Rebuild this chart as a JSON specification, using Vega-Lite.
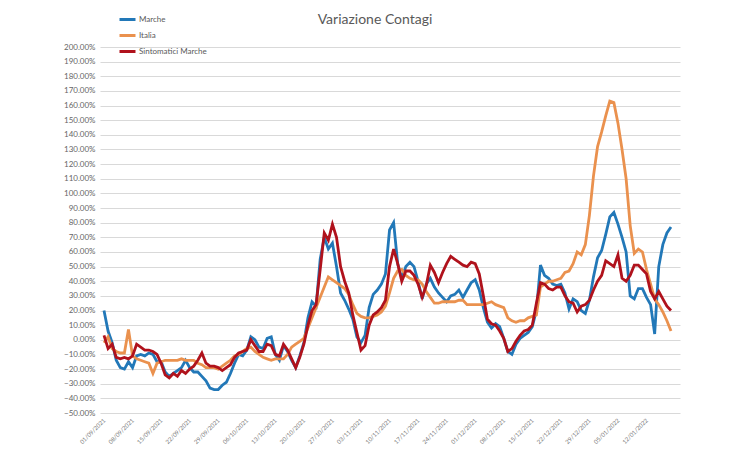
{
  "$schema": "https://vega.github.io/schema/vega-lite/v6.json",
  "autosize": {"type": "none"},
  "width": 580,
  "height": 366,
  "padding": {"left": 100, "top": 47, "right": 70, "bottom": 37},
  "background": "white",
  "config": {"font": "Lato", "view": {"stroke": null}},
  "title": {"text": "Variazione Contagi", "fontSize": 14, "fontWeight": "normal", "color": "#595959", "anchor": "middle", "dx": -15, "offset": 0, "dy": 17},
  "data": {"values": [
    {"d":"2021-09-01","Marche":20,"Italia":-2,"Sintomatici Marche":3},
    {"d":"2021-09-02","Marche":6,"Italia":2,"Sintomatici Marche":-6},
    {"d":"2021-09-03","Marche":-2,"Italia":-6,"Sintomatici Marche":-3},
    {"d":"2021-09-04","Marche":-14,"Italia":-8,"Sintomatici Marche":-12},
    {"d":"2021-09-05","Marche":-19,"Italia":-9,"Sintomatici Marche":-13},
    {"d":"2021-09-06","Marche":-20,"Italia":-9,"Sintomatici Marche":-12},
    {"d":"2021-09-07","Marche":-15,"Italia":7,"Sintomatici Marche":-13},
    {"d":"2021-09-08","Marche":-19,"Italia":-11,"Sintomatici Marche":-11},
    {"d":"2021-09-09","Marche":-11,"Italia":-13,"Sintomatici Marche":-3},
    {"d":"2021-09-10","Marche":-10,"Italia":-14,"Sintomatici Marche":-5},
    {"d":"2021-09-11","Marche":-11,"Italia":-15,"Sintomatici Marche":-7},
    {"d":"2021-09-12","Marche":-9,"Italia":-16,"Sintomatici Marche":-7},
    {"d":"2021-09-13","Marche":-10,"Italia":-23,"Sintomatici Marche":-8},
    {"d":"2021-09-14","Marche":-15,"Italia":-16,"Sintomatici Marche":-10},
    {"d":"2021-09-15","Marche":-15,"Italia":-15,"Sintomatici Marche":-16},
    {"d":"2021-09-16","Marche":-22,"Italia":-14,"Sintomatici Marche":-24},
    {"d":"2021-09-17","Marche":-25,"Italia":-14,"Sintomatici Marche":-26},
    {"d":"2021-09-18","Marche":-23,"Italia":-14,"Sintomatici Marche":-23},
    {"d":"2021-09-19","Marche":-21,"Italia":-14,"Sintomatici Marche":-25},
    {"d":"2021-09-20","Marche":-19,"Italia":-13,"Sintomatici Marche":-21},
    {"d":"2021-09-21","Marche":-14,"Italia":-14,"Sintomatici Marche":-23},
    {"d":"2021-09-22","Marche":-19,"Italia":-14,"Sintomatici Marche":-20},
    {"d":"2021-09-23","Marche":-22,"Italia":-14,"Sintomatici Marche":-18},
    {"d":"2021-09-24","Marche":-22,"Italia":-16,"Sintomatici Marche":-14},
    {"d":"2021-09-25","Marche":-25,"Italia":-17,"Sintomatici Marche":-9},
    {"d":"2021-09-26","Marche":-28,"Italia":-19,"Sintomatici Marche":-16},
    {"d":"2021-09-27","Marche":-33,"Italia":-19,"Sintomatici Marche":-18},
    {"d":"2021-09-28","Marche":-34,"Italia":-19,"Sintomatici Marche":-18},
    {"d":"2021-09-29","Marche":-34,"Italia":-20,"Sintomatici Marche":-19},
    {"d":"2021-09-30","Marche":-31,"Italia":-18,"Sintomatici Marche":-21},
    {"d":"2021-10-01","Marche":-29,"Italia":-16,"Sintomatici Marche":-19},
    {"d":"2021-10-02","Marche":-23,"Italia":-14,"Sintomatici Marche":-17},
    {"d":"2021-10-03","Marche":-16,"Italia":-11,"Sintomatici Marche":-12},
    {"d":"2021-10-04","Marche":-10,"Italia":-10,"Sintomatici Marche":-9},
    {"d":"2021-10-05","Marche":-11,"Italia":-8,"Sintomatici Marche":-8},
    {"d":"2021-10-06","Marche":-7,"Italia":-6,"Sintomatici Marche":-7},
    {"d":"2021-10-07","Marche":2,"Italia":-5,"Sintomatici Marche":0},
    {"d":"2021-10-08","Marche":0,"Italia":-8,"Sintomatici Marche":-4},
    {"d":"2021-10-09","Marche":-5,"Italia":-10,"Sintomatici Marche":-8},
    {"d":"2021-10-10","Marche":-6,"Italia":-12,"Sintomatici Marche":-8},
    {"d":"2021-10-11","Marche":1,"Italia":-13,"Sintomatici Marche":-3},
    {"d":"2021-10-12","Marche":2,"Italia":-14,"Sintomatici Marche":-4},
    {"d":"2021-10-13","Marche":-10,"Italia":-13,"Sintomatici Marche":-10},
    {"d":"2021-10-14","Marche":-14,"Italia":-13,"Sintomatici Marche":-11},
    {"d":"2021-10-15","Marche":-4,"Italia":-13,"Sintomatici Marche":-3},
    {"d":"2021-10-16","Marche":-8,"Italia":-10,"Sintomatici Marche":-7},
    {"d":"2021-10-17","Marche":-14,"Italia":-5,"Sintomatici Marche":-13},
    {"d":"2021-10-18","Marche":-19,"Italia":-3,"Sintomatici Marche":-19},
    {"d":"2021-10-19","Marche":-11,"Italia":-1,"Sintomatici Marche":-12},
    {"d":"2021-10-20","Marche":-2,"Italia":1,"Sintomatici Marche":-3},
    {"d":"2021-10-21","Marche":15,"Italia":8,"Sintomatici Marche":10},
    {"d":"2021-10-22","Marche":26,"Italia":15,"Sintomatici Marche":20},
    {"d":"2021-10-23","Marche":23,"Italia":22,"Sintomatici Marche":24},
    {"d":"2021-10-24","Marche":55,"Italia":29,"Sintomatici Marche":48},
    {"d":"2021-10-25","Marche":70,"Italia":36,"Sintomatici Marche":73},
    {"d":"2021-10-26","Marche":62,"Italia":43,"Sintomatici Marche":68},
    {"d":"2021-10-27","Marche":66,"Italia":41,"Sintomatici Marche":79},
    {"d":"2021-10-28","Marche":50,"Italia":39,"Sintomatici Marche":70},
    {"d":"2021-10-29","Marche":32,"Italia":37,"Sintomatici Marche":50},
    {"d":"2021-10-30","Marche":27,"Italia":35,"Sintomatici Marche":40},
    {"d":"2021-10-31","Marche":21,"Italia":31,"Sintomatici Marche":32},
    {"d":"2021-11-01","Marche":14,"Italia":24,"Sintomatici Marche":17},
    {"d":"2021-11-02","Marche":2,"Italia":18,"Sintomatici Marche":5},
    {"d":"2021-11-03","Marche":-2,"Italia":16,"Sintomatici Marche":-7},
    {"d":"2021-11-04","Marche":3,"Italia":15,"Sintomatici Marche":-4},
    {"d":"2021-11-05","Marche":22,"Italia":15,"Sintomatici Marche":10},
    {"d":"2021-11-06","Marche":31,"Italia":16,"Sintomatici Marche":17},
    {"d":"2021-11-07","Marche":34,"Italia":17,"Sintomatici Marche":19},
    {"d":"2021-11-08","Marche":38,"Italia":19,"Sintomatici Marche":22},
    {"d":"2021-11-09","Marche":45,"Italia":23,"Sintomatici Marche":27},
    {"d":"2021-11-10","Marche":75,"Italia":32,"Sintomatici Marche":50},
    {"d":"2021-11-11","Marche":80,"Italia":42,"Sintomatici Marche":62},
    {"d":"2021-11-12","Marche":52,"Italia":47,"Sintomatici Marche":52},
    {"d":"2021-11-13","Marche":42,"Italia":48,"Sintomatici Marche":40},
    {"d":"2021-11-14","Marche":50,"Italia":44,"Sintomatici Marche":47},
    {"d":"2021-11-15","Marche":53,"Italia":42,"Sintomatici Marche":47},
    {"d":"2021-11-16","Marche":50,"Italia":41,"Sintomatici Marche":44},
    {"d":"2021-11-17","Marche":40,"Italia":41,"Sintomatici Marche":38},
    {"d":"2021-11-18","Marche":28,"Italia":38,"Sintomatici Marche":29},
    {"d":"2021-11-19","Marche":38,"Italia":33,"Sintomatici Marche":37},
    {"d":"2021-11-20","Marche":42,"Italia":29,"Sintomatici Marche":51},
    {"d":"2021-11-21","Marche":36,"Italia":25,"Sintomatici Marche":46},
    {"d":"2021-11-22","Marche":32,"Italia":25,"Sintomatici Marche":39},
    {"d":"2021-11-23","Marche":29,"Italia":26,"Sintomatici Marche":46},
    {"d":"2021-11-24","Marche":26,"Italia":26,"Sintomatici Marche":52},
    {"d":"2021-11-25","Marche":30,"Italia":26,"Sintomatici Marche":57},
    {"d":"2021-11-26","Marche":31,"Italia":26,"Sintomatici Marche":55},
    {"d":"2021-11-27","Marche":34,"Italia":27,"Sintomatici Marche":53},
    {"d":"2021-11-28","Marche":29,"Italia":27,"Sintomatici Marche":51},
    {"d":"2021-11-29","Marche":34,"Italia":24,"Sintomatici Marche":50},
    {"d":"2021-11-30","Marche":39,"Italia":24,"Sintomatici Marche":53},
    {"d":"2021-12-01","Marche":41,"Italia":24,"Sintomatici Marche":52},
    {"d":"2021-12-02","Marche":34,"Italia":24,"Sintomatici Marche":45},
    {"d":"2021-12-03","Marche":22,"Italia":24,"Sintomatici Marche":30},
    {"d":"2021-12-04","Marche":12,"Italia":25,"Sintomatici Marche":14},
    {"d":"2021-12-05","Marche":8,"Italia":26,"Sintomatici Marche":11},
    {"d":"2021-12-06","Marche":11,"Italia":24,"Sintomatici Marche":10},
    {"d":"2021-12-07","Marche":9,"Italia":23,"Sintomatici Marche":6},
    {"d":"2021-12-08","Marche":1,"Italia":22,"Sintomatici Marche":1},
    {"d":"2021-12-09","Marche":-8,"Italia":15,"Sintomatici Marche":-8},
    {"d":"2021-12-10","Marche":-10,"Italia":13,"Sintomatici Marche":-6},
    {"d":"2021-12-11","Marche":-3,"Italia":12,"Sintomatici Marche":-1},
    {"d":"2021-12-12","Marche":1,"Italia":13,"Sintomatici Marche":3},
    {"d":"2021-12-13","Marche":3,"Italia":13,"Sintomatici Marche":6},
    {"d":"2021-12-14","Marche":5,"Italia":15,"Sintomatici Marche":7},
    {"d":"2021-12-15","Marche":9,"Italia":16,"Sintomatici Marche":10},
    {"d":"2021-12-16","Marche":20,"Italia":17,"Sintomatici Marche":25},
    {"d":"2021-12-17","Marche":51,"Italia":36,"Sintomatici Marche":39},
    {"d":"2021-12-18","Marche":44,"Italia":38,"Sintomatici Marche":38},
    {"d":"2021-12-19","Marche":42,"Italia":40,"Sintomatici Marche":35},
    {"d":"2021-12-20","Marche":38,"Italia":40,"Sintomatici Marche":34},
    {"d":"2021-12-21","Marche":37,"Italia":41,"Sintomatici Marche":36},
    {"d":"2021-12-22","Marche":38,"Italia":42,"Sintomatici Marche":36},
    {"d":"2021-12-23","Marche":32,"Italia":46,"Sintomatici Marche":30},
    {"d":"2021-12-24","Marche":21,"Italia":47,"Sintomatici Marche":26},
    {"d":"2021-12-25","Marche":28,"Italia":52,"Sintomatici Marche":25},
    {"d":"2021-12-26","Marche":26,"Italia":60,"Sintomatici Marche":19},
    {"d":"2021-12-27","Marche":20,"Italia":58,"Sintomatici Marche":23},
    {"d":"2021-12-28","Marche":18,"Italia":65,"Sintomatici Marche":24},
    {"d":"2021-12-29","Marche":27,"Italia":85,"Sintomatici Marche":27},
    {"d":"2021-12-30","Marche":43,"Italia":112,"Sintomatici Marche":34},
    {"d":"2021-12-31","Marche":56,"Italia":132,"Sintomatici Marche":40},
    {"d":"2022-01-01","Marche":61,"Italia":142,"Sintomatici Marche":44},
    {"d":"2022-01-02","Marche":72,"Italia":153,"Sintomatici Marche":54},
    {"d":"2022-01-03","Marche":84,"Italia":163,"Sintomatici Marche":52},
    {"d":"2022-01-04","Marche":87,"Italia":162,"Sintomatici Marche":50},
    {"d":"2022-01-05","Marche":79,"Italia":148,"Sintomatici Marche":58},
    {"d":"2022-01-06","Marche":70,"Italia":130,"Sintomatici Marche":42},
    {"d":"2022-01-07","Marche":60,"Italia":110,"Sintomatici Marche":40},
    {"d":"2022-01-08","Marche":30,"Italia":78,"Sintomatici Marche":44},
    {"d":"2022-01-09","Marche":28,"Italia":59,"Sintomatici Marche":51},
    {"d":"2022-01-10","Marche":35,"Italia":62,"Sintomatici Marche":51},
    {"d":"2022-01-11","Marche":35,"Italia":60,"Sintomatici Marche":48},
    {"d":"2022-01-12","Marche":29,"Italia":48,"Sintomatici Marche":45},
    {"d":"2022-01-13","Marche":24,"Italia":38,"Sintomatici Marche":33},
    {"d":"2022-01-14","Marche":4,"Italia":28,"Sintomatici Marche":28},
    {"d":"2022-01-15","Marche":50,"Italia":24,"Sintomatici Marche":33},
    {"d":"2022-01-16","Marche":65,"Italia":19,"Sintomatici Marche":28},
    {"d":"2022-01-17","Marche":73,"Italia":13,"Sintomatici Marche":23},
    {"d":"2022-01-18","Marche":77,"Italia":6,"Sintomatici Marche":20}
  ]},
  "transform": [
    {"fold": ["Marche", "Italia", "Sintomatici Marche"], "as": ["serie", "value"]}
  ],
  "encoding": {
    "x": {
      "field": "d", "type": "temporal",
      "scale": {"type": "utc", "domain": [
        {"year": 2021, "month": 8, "date": 31, "hours": 0, "minutes": 30, "utc": true},
        {"year": 2022, "month": 1, "date": 20, "hours": 5, "utc": true}
      ]},
      "axis": {
        "title": null, "format": "%d/%m/%Y", "labelAngle": -45, "labelAlign": "right", "labelBaseline": "middle",
        "labelFontSize": 6, "labelColor": "#777777", "labelPadding": 6, "labelOverlap": false,
        "domain": false, "ticks": false, "grid": false,
        "values": [
          {"year": 2021, "month": 9, "date": 1, "utc": true},
          {"year": 2021, "month": 9, "date": 8, "utc": true},
          {"year": 2021, "month": 9, "date": 15, "utc": true},
          {"year": 2021, "month": 9, "date": 22, "utc": true},
          {"year": 2021, "month": 9, "date": 29, "utc": true},
          {"year": 2021, "month": 10, "date": 6, "utc": true},
          {"year": 2021, "month": 10, "date": 13, "utc": true},
          {"year": 2021, "month": 10, "date": 20, "utc": true},
          {"year": 2021, "month": 10, "date": 27, "utc": true},
          {"year": 2021, "month": 11, "date": 3, "utc": true},
          {"year": 2021, "month": 11, "date": 10, "utc": true},
          {"year": 2021, "month": 11, "date": 17, "utc": true},
          {"year": 2021, "month": 11, "date": 24, "utc": true},
          {"year": 2021, "month": 12, "date": 1, "utc": true},
          {"year": 2021, "month": 12, "date": 8, "utc": true},
          {"year": 2021, "month": 12, "date": 15, "utc": true},
          {"year": 2021, "month": 12, "date": 22, "utc": true},
          {"year": 2021, "month": 12, "date": 29, "utc": true},
          {"year": 2022, "month": 1, "date": 5, "utc": true},
          {"year": 2022, "month": 1, "date": 12, "utc": true}
        ]
      }
    },
    "y": {
      "field": "value", "type": "quantitative",
      "scale": {"domain": [-50, 200], "nice": false, "zero": false},
      "axis": {
        "title": null, "values": [-50,-40,-30,-20,-10,0,10,20,30,40,50,60,70,80,90,100,110,120,130,140,150,160,170,180,190,200],
        "labelExpr": "format(datum.value, '.2f') + '%'",
        "labelFontSize": 8, "labelColor": "#666666", "labelPadding": 5,
        "domain": false, "ticks": false, "grid": true, "gridColor": "#d9d9d9", "gridWidth": 1
      }
    },
    "color": {
      "field": "serie", "type": "nominal",
      "scale": {"domain": ["Marche", "Italia", "Sintomatici Marche"], "range": ["#2278B8", "#EA914E", "#B0121C"]},
      "legend": {
        "title": null, "orient": "none", "legendX": 18, "legendY": -37, "direction": "vertical",
        "symbolType": "stroke", "symbolSize": 256, "symbolStrokeWidth": 3,
        "labelFontSize": 8, "labelColor": "#595959", "labelOffset": 2, "rowPadding": 0
      }
    }
  },
  "layer": [
    {"transform": [{"filter": "datum.serie === 'Marche'"}], "mark": {"type": "line", "strokeWidth": 2.8}},
    {"transform": [{"filter": "datum.serie === 'Italia'"}], "mark": {"type": "line", "strokeWidth": 2.8}},
    {"transform": [{"filter": "datum.serie === 'Sintomatici Marche'"}], "mark": {"type": "line", "strokeWidth": 2.8}}
  ]
}
